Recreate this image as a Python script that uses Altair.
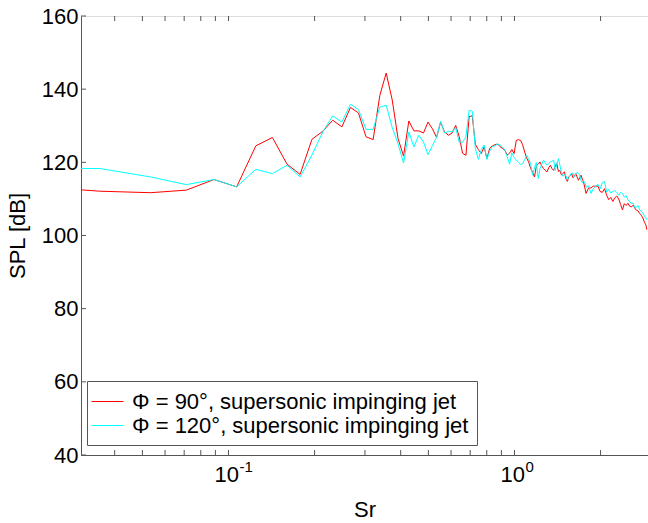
import altair as alt
import pandas as pd

# ---------------- data ----------------
freq = [0.0178, 0.0356, 0.0534, 0.0712, 0.089, 0.1068, 0.1246, 0.1424, 0.1602, 0.178,
        0.1958, 0.2136, 0.2314, 0.2492, 0.267, 0.2848, 0.3026, 0.3204, 0.3382, 0.356,
        0.3738, 0.3916, 0.4094, 0.4272, 0.445, 0.4628, 0.4806, 0.4984, 0.5162, 0.534,
        0.5518, 0.5696, 0.5874, 0.6052, 0.623, 0.6408, 0.6586, 0.6764, 0.6942, 0.712,
        0.7298, 0.7476, 0.7654, 0.7832, 0.801, 0.8188, 0.8366, 0.8544, 0.8722, 0.89,
        0.9078, 0.9256, 0.9434, 0.9612, 0.979, 0.9968, 1.0146, 1.0324, 1.0502, 1.068,
        1.0858, 1.1036, 1.1214, 1.1392, 1.157, 1.1748, 1.1926, 1.2104, 1.2282, 1.246,
        1.2638, 1.2816, 1.2994, 1.3172, 1.335, 1.3528, 1.3706, 1.3884, 1.4062, 1.424,
        1.4418, 1.4596, 1.4774, 1.4952, 1.513, 1.5308, 1.5486, 1.5664, 1.5842, 1.602,
        1.6198, 1.6376, 1.6554, 1.6732, 1.691, 1.7088, 1.7266, 1.7444, 1.7622, 1.78,
        1.8156, 1.8512, 1.8868, 1.9224, 1.958, 1.9936, 2.0292, 2.0648, 2.1004, 2.136,
        2.1716, 2.2072, 2.2428, 2.2784, 2.314, 2.3496, 2.3852, 2.4208, 2.4564, 2.492,
        2.5276, 2.5632, 2.5988, 2.6344, 2.67, 2.7056, 2.7412, 2.7768, 2.8124, 2.848,
        2.8836, 2.9014]

spl_90 = [113.8, 112.1, 111.7, 112.4, 115.3, 113.3, 124.5, 126.8, 119.5, 116.7,
          126.3, 128.5, 131.5, 129.7, 135.0, 133.5, 127.0, 126.2, 138.3, 144.4,
          137.0, 126.5, 121.7, 131.3, 128.6, 128.6, 128.0, 131.0, 129.2, 126.8,
          131.0, 128.3, 127.4, 128.0, 130.1, 127.0, 122.5, 121.9, 132.5, 132.7,
          124.9, 123.5, 122.4, 124.2, 121.0, 123.8, 124.5, 124.8, 125.0, 124.3,
          123.8, 123.3, 122.0, 122.5, 123.5, 122.4, 126.0, 126.2, 126.0, 124.8,
          122.8, 121.2, 120.0, 118.3, 117.3, 116.0, 119.0, 119.5, 120.1, 119.0,
          118.3, 117.8, 117.4, 118.5, 119.2, 118.3, 117.8, 119.0, 119.7, 117.5,
          117.8, 116.5, 117.0, 117.4, 115.5, 114.8, 116.0, 116.4, 116.9, 115.8,
          116.2, 116.9, 116.0, 115.1, 115.8, 116.5, 115.4, 114.6, 113.0, 111.5,
          113.0, 113.0, 113.5, 113.5, 113.5, 112.0, 111.8, 112.8, 111.0, 109.8,
          110.4, 109.3, 110.3, 110.8, 110.0, 108.5, 107.0, 108.7, 108.2, 108.8,
          108.0, 107.8, 108.3, 107.5, 106.9, 106.7, 106.0, 105.5, 104.8, 103.6,
          102.8, 101.6]

spl_120 = [118.4, 118.3, 116.0, 113.9, 115.3, 113.3, 118.1, 116.9, 119.2, 116.0,
           122.0, 128.3, 132.7, 131.0, 135.9, 134.4, 129.0, 129.0, 135.1, 135.6,
           129.5, 125.1, 119.8, 128.3, 124.2, 127.4, 125.6, 122.1, 124.5, 126.8,
           131.2, 128.0, 128.5, 128.3, 129.5, 125.5, 125.5, 127.0, 134.2, 134.0,
           123.8, 120.8, 123.5, 124.7, 120.8, 123.0, 124.3, 124.5, 125.0, 124.8,
           124.2, 123.3, 121.5, 119.5, 122.6, 121.3, 120.6, 120.0, 119.4, 119.6,
           120.8, 121.9, 121.0, 119.5, 116.5, 118.5, 120.0, 115.6, 118.3, 119.5,
           120.6, 119.8, 119.2, 119.7, 120.1, 120.3, 120.6, 117.8, 119.5, 121.0,
           119.2, 117.0, 116.2, 116.7, 116.3, 115.2, 115.8, 116.5, 117.1, 117.0,
           116.0, 116.8, 117.3, 117.0, 116.5, 115.0, 114.4, 114.9, 114.5, 113.2,
           113.6, 111.5, 112.8, 113.5, 114.0, 112.8, 114.5, 114.8, 111.9, 112.6,
           111.6, 112.0, 112.3, 111.7, 111.0, 111.8, 111.5, 110.5, 110.9, 109.8,
           109.3, 108.7, 108.9, 107.6, 107.8, 108.2, 107.0, 106.6, 106.2, 105.3,
           104.8, 104.3]

series_names = ["Φ = 90°, supersonic impinging jet", "Φ = 120°, supersonic impinging jet"]
series_colors = ["#ff0000", "#00ffff"]

y_ticks = [40, 60, 80, 100, 120, 140, 160]
x_major = [0.1, 1.0]
x_major_exp = ["-1", "0"]
x_minor = [0.04, 0.05, 0.06, 0.07, 0.08, 0.09, 0.2, 0.3, 0.4, 0.5, 0.6, 0.7, 0.8, 0.9, 2.0]

# ---------------- chart ----------------
W, H = 567, 439
FONT = "Liberation Sans"
AXC = "#555555"
TL = 5

df = pd.DataFrame({
    "f": freq * 2,
    "spl": spl_90 + spl_120,
    "series": [series_names[0]] * len(freq) + [series_names[1]] * len(freq),
})

xscale = alt.Scale(type="log", domain=[0.0305, 2.93], nice=False)
yscale = alt.Scale(domain=[40, 160], nice=False, zero=False)
color = alt.Color(
    "series:N",
    scale=alt.Scale(domain=series_names, range=series_colors),
    legend=alt.Legend(
        title=None, orient="none", legendX=6, legendY=365,
        fillColor="white", strokeColor=AXC, padding=8,
        labelFont=FONT, labelFontSize=22, labelColor="black", labelLimit=0,
        labelExpr="datum.label + '\u00a0\u00a0'",
        labelOffset=12, rowPadding=0,
        symbolType="M-1.33,0L1.33,0", symbolSize=576, symbolStrokeWidth=1,
    ),
)

x_axis = alt.Axis(values=x_major, labelExpr="'10'", ticks=False, grid=False,
                  domainColor=AXC, labelFont=FONT, labelFontSize=22, labelColor="black",
                  labelAlign="right", labelOffset=10, labelPadding=9,
                  title="Sr", titleFont=FONT, titleFontSize=22, titleFontWeight="normal",
                  titleColor="black", titlePadding=14)
y_axis = alt.Axis(values=y_ticks, ticks=False, grid=False, domainColor=AXC,
                  labelFont=FONT, labelFontSize=22, labelColor="black", labelPadding=3,
                  title="SPL [dB]", titleFont=FONT, titleFontSize=22, titleFontWeight="normal",
                  titleColor="black", titlePadding=12)

X = alt.X("f:Q", scale=xscale, axis=x_axis)
red = alt.Chart(df).transform_filter(alt.datum.series == series_names[0]).mark_line(
    clip=True, strokeWidth=1
).encode(x=X, y=alt.Y("spl:Q", scale=yscale, axis=y_axis), color=color)
cyan = alt.Chart(df).transform_filter(alt.datum.series == series_names[1]).mark_line(
    clip=True, strokeWidth=1
).encode(x=X, y=alt.Y("spl:Q", scale=yscale, axis=y_axis), color=color)

xt = pd.DataFrame({"f": x_major + x_minor})
yt = pd.DataFrame({"spl": y_ticks})
xt_bottom = alt.Chart(xt).mark_rule(color=AXC, strokeWidth=1).encode(
    x=X, y=alt.value(H), y2=alt.value(H - TL))
xt_top = alt.Chart(xt).mark_rule(color=AXC, strokeWidth=1).encode(
    x=X, y=alt.value(0), y2=alt.value(TL))
yt_left = alt.Chart(yt).mark_rule(color=AXC, strokeWidth=1).encode(
    y=alt.Y("spl:Q", scale=yscale, axis=y_axis), x=alt.value(0), x2=alt.value(TL))

exp_df = pd.DataFrame({"f": x_major, "e": x_major_exp})
exps = alt.Chart(exp_df).mark_text(
    font=FONT, fontSize=15, align="left", baseline="alphabetic", dx=11, color="black"
).encode(x=X, y=alt.value(H + 17), text="e:N")

chart = alt.layer(red, cyan, xt_bottom, xt_top, yt_left, exps).resolve_scale(
    color="shared"
).properties(
    width=W, height=H,
    autosize=alt.AutoSizeParams(type="none"),
    padding={"left": 81, "top": 16, "right": 0, "bottom": 68},
).configure_view(stroke=AXC, strokeWidth=1).configure(background="white")

chart.save("out.html", embed_options={"renderer": "svg", "actions": False})
